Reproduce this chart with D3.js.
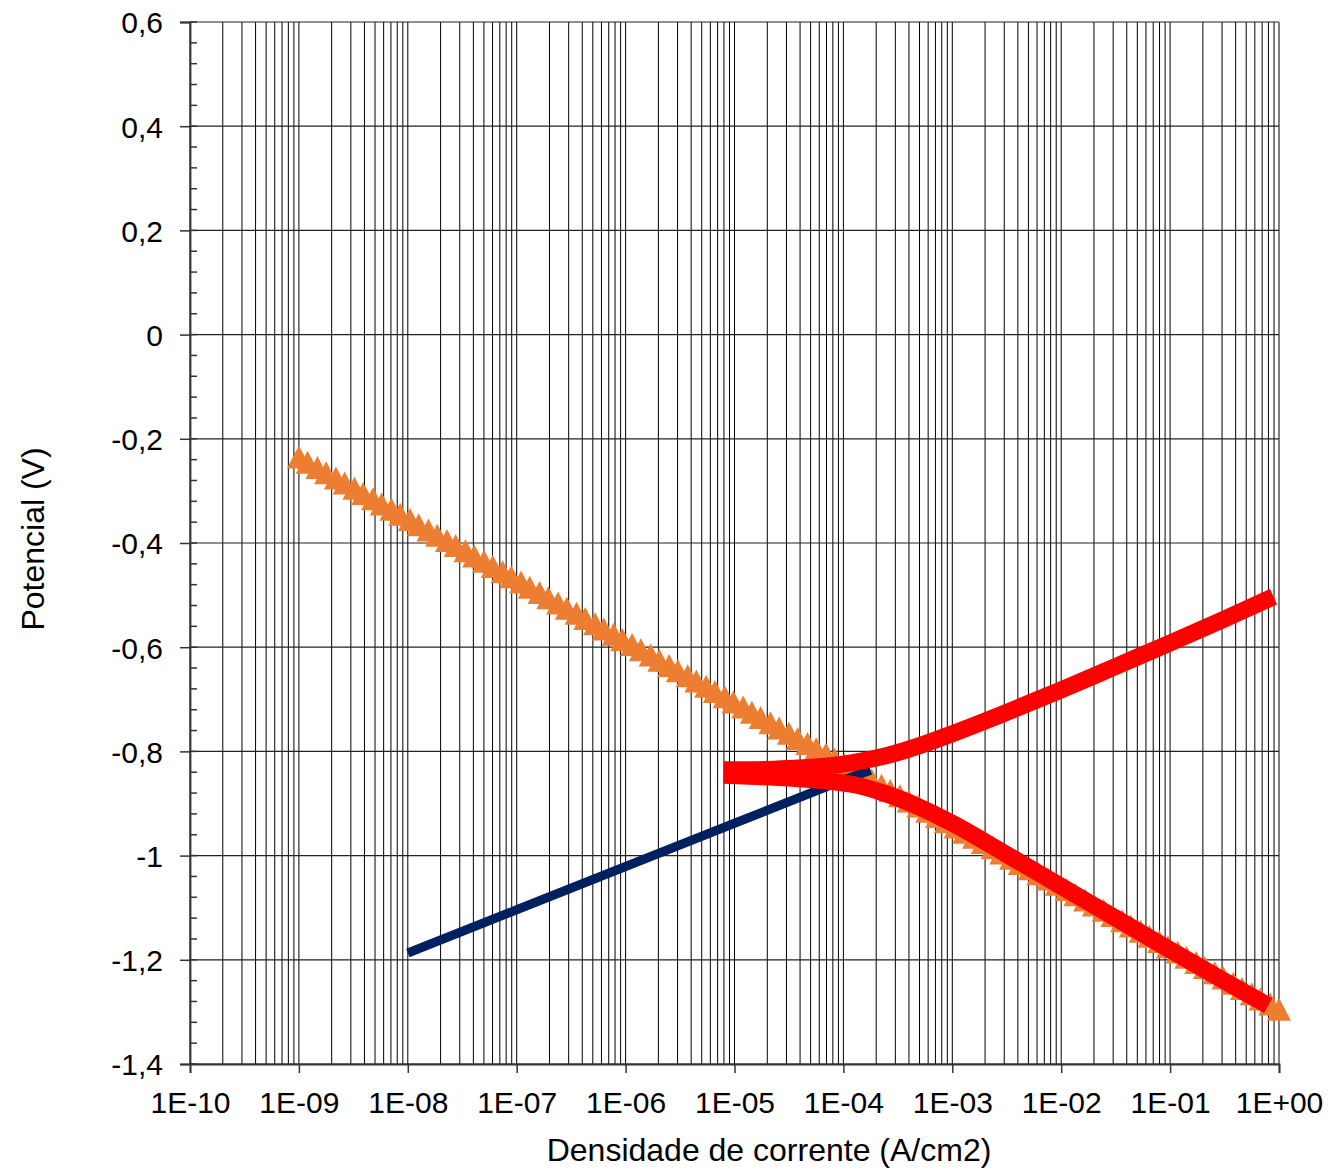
<!DOCTYPE html>
<html>
<head>
  <meta charset="utf-8">
  <title>Curva de polarizacao</title>
  <script src="https://d3js.org/d3.v7.min.js"></script>
  <style>
  body { margin: 0; background: #fff; }
  text { font-family: "Liberation Sans", Arial, sans-serif; fill: #000; }
</style>
</head>
<body>
  <div id="chart"></div>
  <script>
// catodica (triangulos laranja): potencial (V) e log10 da densidade de corrente
var orangeE = [
  -0.235, -0.245, -0.255, -0.265, -0.275, -0.285, -0.295, -0.305, -0.315, -0.325,
  -0.335, -0.345, -0.355, -0.365, -0.375, -0.385, -0.395, -0.405, -0.415, -0.425,
  -0.435, -0.445, -0.455, -0.465, -0.475, -0.485, -0.495, -0.505, -0.515, -0.525,
  -0.535, -0.545, -0.555, -0.565, -0.575, -0.585, -0.595, -0.605, -0.615, -0.625,
  -0.635, -0.645, -0.655, -0.665, -0.675, -0.685, -0.695, -0.705, -0.715, -0.725,
  -0.735, -0.745, -0.755, -0.765, -0.775, -0.785, -0.795, -0.805, -0.815, -0.825,
  -0.835, -0.845, -0.855, -0.865, -0.875, -0.885, -0.895, -0.905, -0.915, -0.925,
  -0.935, -0.945, -0.955, -0.965, -0.975, -0.985, -0.995, -1.005, -1.015, -1.025,
  -1.035, -1.045, -1.055, -1.065, -1.075, -1.085, -1.095, -1.105, -1.115, -1.125,
  -1.135, -1.145, -1.155, -1.165, -1.175, -1.185, -1.195, -1.205, -1.215, -1.225,
  -1.235, -1.245, -1.255, -1.265, -1.275, -1.285, -1.295
];
var orangeLogI = [
  -9.00, -8.92, -8.83, -8.75, -8.66, -8.58, -8.49, -8.41, -8.32, -8.24,
  -8.15, -8.07, -7.98, -7.90, -7.81, -7.73, -7.64, -7.56, -7.47, -7.39,
  -7.30, -7.22, -7.13, -7.05, -6.96, -6.88, -6.79, -6.71, -6.62, -6.54,
  -6.45, -6.37, -6.28, -6.20, -6.11, -6.03, -5.94, -5.86, -5.77, -5.69,
  -5.60, -5.52, -5.43, -5.35, -5.26, -5.18, -5.09, -5.01, -4.92, -4.84,
  -4.76, -4.67, -4.59, -4.50, -4.42, -4.33, -4.25, -4.16, -4.08, -3.99,
  -3.91, -3.82, -3.74, -3.65, -3.57, -3.48, -3.40, -3.31, -3.23, -3.14,
  -3.06, -2.97, -2.89, -2.80, -2.72, -2.63, -2.55, -2.46, -2.38, -2.29,
  -2.21, -2.12, -2.04, -1.95, -1.87, -1.78, -1.70, -1.61, -1.53, -1.44,
  -1.36, -1.27, -1.19, -1.10, -1.02, -0.93, -0.85, -0.76, -0.68, -0.59,
  -0.51, -0.42, -0.34, -0.25, -0.17, -0.08, 0.00
];

// anodica (linha azul)
var navyLogI = [-8.00, -7.00, -6.00, -5.00, -4.00, -3.75];
var navyE = [-1.187, -1.104, -1.021, -0.938, -0.855, -0.836];

// curva experimental (vermelha), ramo anodico e ramo catodico
var redUpLogI = [-5.10, -4.80, -4.50, -4.20, -3.90, -3.60, -3.30, -3.00, -2.50, -2.00, -1.50, -1.00, -0.50, -0.05];
var redUpE = [-0.835, -0.835, -0.833, -0.829, -0.821, -0.808, -0.789, -0.766, -0.725, -0.682, -0.637, -0.592, -0.546, -0.503];
var redLowLogI = [-5.10, -4.80, -4.50, -4.20, -3.90, -3.60, -3.30, -3.00, -2.50, -2.00, -1.50, -1.00, -0.50, -0.10];
var redLowE = [-0.846, -0.848, -0.851, -0.856, -0.864, -0.882, -0.907, -0.938, -0.998, -1.059, -1.120, -1.181, -1.241, -1.288];

var yTicks = [0.6, 0.4, 0.2, 0, -0.2, -0.4, -0.6, -0.8, -1, -1.2, -1.4];
var xTickLabels = ["1E-10", "1E-09", "1E-08", "1E-07", "1E-06", "1E-05", "1E-04", "1E-03", "1E-02", "1E-01", "1E+00"];

var width = 1332, height = 1169;
var plotLeft = 190, plotRight = 1279, plotTop = 22, plotBottom = 1064;

var svg = d3.select("#chart").append("svg")
  .attr("width", width)
  .attr("height", height);

var x = d3.scaleLog().domain([1e-10, 1]).range([plotLeft, plotRight]);
var y = d3.scaleLinear().domain([-1.4, 0.6]).range([plotBottom, plotTop]);

// grade vertical: todas as subdivisoes logaritmicas
var xGrid = [];
for (var p = -10; p <= 0; p++) {
  for (var m = 1; m <= 9; m++) {
    if (p === 0 && m > 1) break;
    xGrid.push(m * Math.pow(10, p));
  }
}

svg.append("g").selectAll("line")
  .data(xGrid)
  .enter().append("line")
  .attr("x1", function(d) { return x(d); })
  .attr("x2", function(d) { return x(d); })
  .attr("y1", plotTop)
  .attr("y2", plotBottom)
  .attr("stroke", "#000")
  .attr("stroke-width", 1);

svg.append("g").selectAll("line")
  .data(yTicks)
  .enter().append("line")
  .attr("x1", plotLeft)
  .attr("x2", plotRight)
  .attr("y1", function(d) { return y(d); })
  .attr("y2", function(d) { return y(d); })
  .attr("stroke", "#222")
  .attr("stroke-width", 1.2);

// eixo y
var yAxis = d3.axisLeft(y)
  .tickValues(yTicks)
  .tickSize(10)
  .tickFormat(function(d) { return String(+d.toFixed(1)).replace(".", ","); });

var gy = svg.append("g")
  .attr("transform", "translate(" + plotLeft + ",0)")
  .call(yAxis);
gy.select(".domain").attr("stroke", "#333").attr("stroke-width", 1.8);
gy.selectAll(".tick line").attr("stroke", "#333").attr("stroke-width", 1.5);
gy.selectAll(".tick text")
  .attr("x", -27)
  .attr("dy", "0.36em")
  .style("font-size", "30px")
  .style("font-family", "'Liberation Sans', Arial, sans-serif");

// subdivisoes do eixo y (para dentro)
var yMinor = d3.range(0, 51).map(function(i) { return 0.6 - i * 0.04; });
svg.append("g").selectAll("line")
  .data(yMinor)
  .enter().append("line")
  .attr("x1", plotLeft)
  .attr("x2", plotLeft + 7)
  .attr("y1", function(d) { return y(d); })
  .attr("y2", function(d) { return y(d); })
  .attr("stroke", "#333")
  .attr("stroke-width", 1.5);

// eixo x
var xMajor = d3.range(-10, 1).map(function(p) { return Math.pow(10, p); });
var xAxis = d3.axisBottom(x)
  .tickValues(xMajor)
  .tickSize(9)
  .tickFormat(function(d, i) { return xTickLabels[i]; });

var gx = svg.append("g")
  .attr("transform", "translate(0," + plotBottom + ")")
  .call(xAxis);
gx.select(".domain").attr("stroke", "#333").attr("stroke-width", 1.8);
gx.selectAll(".tick line").attr("stroke", "#333").attr("stroke-width", 1.5);
gx.selectAll(".tick text")
  .attr("y", 49)
  .attr("dy", 0)
  .style("font-size", "30px")
  .style("font-family", "'Liberation Sans', Arial, sans-serif");

// titulos dos eixos
svg.append("text")
  .attr("x", 769)
  .attr("y", 1161)
  .attr("text-anchor", "middle")
  .style("font-size", "32px")
  .text("Densidade de corrente (A/cm2)");

svg.append("text")
  .attr("transform", "translate(44,539) rotate(-90)")
  .attr("text-anchor", "middle")
  .style("font-size", "32px")
  .text("Potencial (V)");

// series
var orange = orangeLogI.map(function(v, i) { return [Math.pow(10, v), orangeE[i]]; });
var navy = navyLogI.map(function(v, i) { return [Math.pow(10, v), navyE[i]]; });
var redUp = redUpLogI.map(function(v, i) { return [Math.pow(10, v), redUpE[i]]; });
var redLow = redLowLogI.map(function(v, i) { return [Math.pow(10, v), redLowE[i]]; });

var line = d3.line()
  .x(function(d) { return x(d[0]); })
  .y(function(d) { return y(d[1]); });

svg.append("g").selectAll("path")
  .data(orange)
  .enter().append("path")
  .attr("transform", function(d) { return "translate(" + x(d[0]) + "," + y(d[1]) + ")"; })
  .attr("d", "M0,-11.5L12,11.5L-12,11.5Z")
  .attr("fill", "#ED7D31");

svg.append("path")
  .datum(navy)
  .attr("d", line)
  .attr("fill", "none")
  .attr("stroke", "#002060")
  .attr("stroke-width", 9);

[redUp, redLow].forEach(function(s) {
  svg.append("path")
    .datum(s)
    .attr("d", line.curve(d3.curveMonotoneX))
    .attr("fill", "none")
    .attr("stroke", "#FF0000")
    .attr("stroke-width", 17)
    .attr("stroke-linejoin", "round");
});
</script>
</body>
</html>
